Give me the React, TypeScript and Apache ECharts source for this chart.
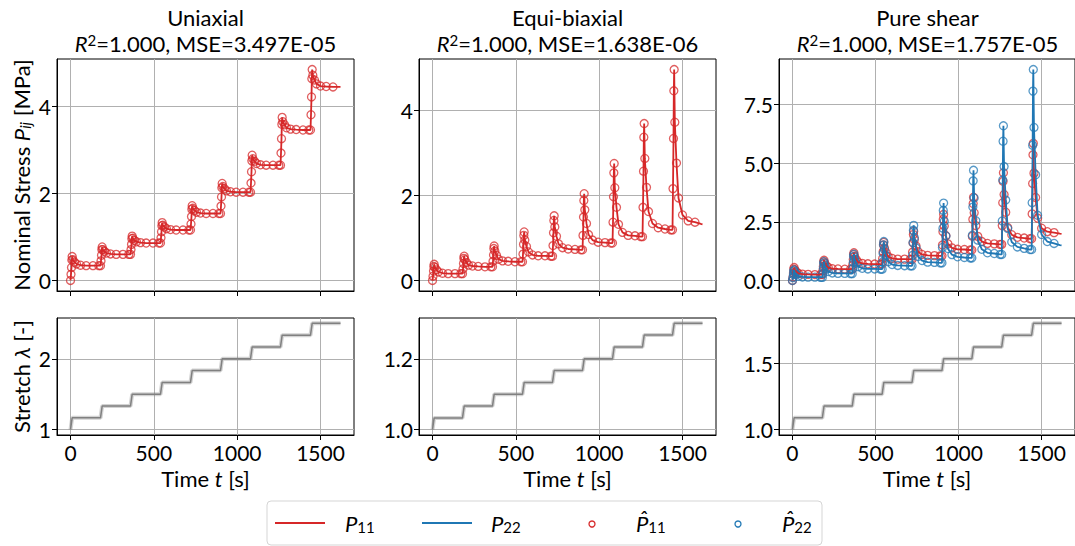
import React, { useEffect, useRef } from "react";
import * as echarts from "echarts";

// ---------- data ----------
const STEP_STARTS = [0, 180, 360, 540, 720, 900, 1080, 1260, 1440];
const STEP_OFFSETS = [0, 3, 6, 8, 10, 14, 24, 36, 60, 94, 135, 170];
const END_TIME = 1620;
const RAMP_TIME = 10;
const MARKER_END = 1600;

const UNI_P11 = [
  0, 0.14, 0.3, 0.47, 0.55, 0.48, 0.42, 0.38, 0.35, 0.34, 0.34, 0.34,
  0.34, 0.45, 0.58, 0.71, 0.77, 0.71, 0.67, 0.63, 0.61, 0.6, 0.6, 0.6,
  0.6, 0.71, 0.83, 0.96, 1.02, 0.97, 0.92, 0.89, 0.87, 0.86, 0.86, 0.86,
  0.86, 0.98, 1.12, 1.26, 1.33, 1.27, 1.23, 1.19, 1.17, 1.16, 1.16, 1.16,
  1.16, 1.3, 1.47, 1.64, 1.72, 1.66, 1.61, 1.57, 1.55, 1.54, 1.54, 1.54,
  1.54, 1.71, 1.92, 2.13, 2.23, 2.16, 2.11, 2.06, 2.04, 2.03, 2.03, 2.03,
  2.03, 2.24, 2.5, 2.75, 2.88, 2.8, 2.74, 2.69, 2.66, 2.65, 2.65, 2.65,
  2.65, 2.93, 3.26, 3.59, 3.75, 3.65, 3.58, 3.51, 3.48, 3.47, 3.46, 3.46,
  3.46, 3.81, 4.22, 4.64, 4.85, 4.72, 4.61, 4.52, 4.47, 4.46, 4.45, 4.45,
  4.45,
];

const EQUI_P11 = [
  0, 0.1, 0.22, 0.33, 0.38, 0.31, 0.25, 0.2, 0.17, 0.16, 0.16, 0.16,
  0.16, 0.27, 0.4, 0.52, 0.57, 0.49, 0.42, 0.36, 0.34, 0.33, 0.32, 0.32,
  0.32, 0.45, 0.6, 0.75, 0.81, 0.69, 0.59, 0.5, 0.46, 0.45, 0.44, 0.44,
  0.44, 0.62, 0.85, 1.06, 1.14, 0.95, 0.8, 0.67, 0.6, 0.58, 0.58, 0.57,
  0.57, 0.82, 1.12, 1.41, 1.52, 1.26, 1.04, 0.86, 0.77, 0.74, 0.73, 0.72,
  0.72, 1.06, 1.49, 1.88, 2.04, 1.66, 1.34, 1.08, 0.95, 0.9, 0.89, 0.88,
  0.88, 1.37, 1.97, 2.53, 2.75, 2.18, 1.72, 1.32, 1.13, 1.06, 1.05, 1.03,
  1.03, 1.72, 2.57, 3.37, 3.69, 2.87, 2.19, 1.62, 1.34, 1.24, 1.21, 1.19,
  1.19, 2.16, 3.34, 4.46, 4.96, 3.72, 2.76, 1.94, 1.54, 1.4, 1.37, 1.33,
  1.32,
];

const PS_P11 = [
  0, 0.14, 0.32, 0.48, 0.55, 0.45, 0.37, 0.3, 0.27, 0.26, 0.25, 0.25,
  0.25, 0.41, 0.6, 0.79, 0.86, 0.74, 0.63, 0.55, 0.5, 0.49, 0.48, 0.48,
  0.48, 0.66, 0.89, 1.1, 1.18, 1.02, 0.89, 0.78, 0.73, 0.71, 0.7, 0.7,
  0.7, 0.94, 1.23, 1.51, 1.62, 1.38, 1.19, 1.02, 0.94, 0.91, 0.91, 0.9,
  0.9, 1.21, 1.6, 1.96, 2.1, 1.75, 1.47, 1.23, 1.11, 1.07, 1.06, 1.05,
  1.05, 1.51, 2.08, 2.61, 2.82, 2.32, 1.91, 1.56, 1.39, 1.33, 1.32, 1.3,
  1.3, 1.89, 2.61, 3.28, 3.55, 2.89, 2.34, 1.88, 1.66, 1.58, 1.56, 1.54,
  1.54, 2.34, 3.32, 4.23, 4.6, 3.67, 2.91, 2.26, 1.95, 1.84, 1.81, 1.78,
  1.78, 2.84, 4.14, 5.36, 5.85, 4.58, 3.54, 2.66, 2.23, 2.08, 2.04, 2.0,
  1.99,
];

const PS_P22 = [
  0, 0.12, 0.26, 0.4, 0.45, 0.34, 0.26, 0.18, 0.15, 0.14, 0.14, 0.13,
  0.13, 0.3, 0.52, 0.72, 0.8, 0.63, 0.49, 0.38, 0.32, 0.3, 0.3, 0.29,
  0.29, 0.51, 0.77, 1.02, 1.12, 0.91, 0.74, 0.59, 0.52, 0.49, 0.49, 0.48,
  0.48, 0.79, 1.16, 1.52, 1.66, 1.32, 1.04, 0.8, 0.68, 0.64, 0.63, 0.62,
  0.62, 1.07, 1.62, 2.14, 2.35, 1.82, 1.39, 1.02, 0.85, 0.78, 0.77, 0.75,
  0.75, 1.41, 2.23, 2.99, 3.3, 2.53, 1.9, 1.36, 1.1, 1.01, 0.98, 0.96,
  0.96, 1.93, 3.13, 4.25, 4.7, 3.52, 2.55, 1.72, 1.33, 1.18, 1.15, 1.11,
  1.11, 2.54, 4.29, 5.94, 6.6, 4.86, 3.43, 2.22, 1.64, 1.43, 1.37, 1.32,
  1.32, 3.32, 5.77, 8.08, 9.0, 6.53, 4.51, 2.78, 1.96, 1.66, 1.58, 1.51,
  1.5,
];

const STRETCH_UNI = [1, 1.1667, 1.3333, 1.5, 1.6667, 1.8333, 2.0, 2.1667, 2.3333, 2.5];
const STRETCH_EQUI = [1, 1.0333, 1.0667, 1.1, 1.1333, 1.1667, 1.2, 1.2333, 1.2667, 1.3];
const STRETCH_PS = [1, 1.0889, 1.1778, 1.2667, 1.3556, 1.4444, 1.5333, 1.6222, 1.7111, 1.8];

const TITLES = ["Uniaxial", "Equi-biaxial", "Pure shear"];
const R2_TEXT = ["1.000", "1.000", "1.000"];
const MSE_TEXT = ["3.497E-05", "1.638E-06", "1.757E-05"];

const X_TICKS = [0, 500, 1000, 1500];
const STRESS_TICKS = [
  [0, 2, 4],
  [0, 2, 4],
  [0, 2.5, 5, 7.5],
];
const STRETCH_TICKS = [
  [1, 2],
  [1.0, 1.2],
  [1.0, 1.5],
];

// ---------- style / layout ----------
const FONT = 'Lato, "DejaVu Sans", sans-serif';
const RED = "#d62728";
const BLUE = "#1f77b4";
const GRAY = "#808080";
const GRID_COLOR = "#b0b0b0";
const FS = 22;
const FS_TICK = 21;

const COL_LEFT = [57, 419, 779];
const COL_W = 297;
const TOP_Y = 59;
const TOP_H = 232;
const BOT_Y = 318;
const BOT_H = 117;

const X_RANGE = [-81, 1701];
const STRESS_RANGE = [
  [-0.2425, 5.0925],
  [-0.248, 5.208],
  [-0.45, 9.45],
];
const STRETCH_RANGE = [
  [0.925, 2.575],
  [0.985, 1.315],
  [0.96, 1.84],
];
const STRESS_FMT = [(v: number) => String(v), (v: number) => String(v), (v: number) => v.toFixed(1)];
const STRETCH_FMT = [(v: number) => String(v), (v: number) => v.toFixed(1), (v: number) => v.toFixed(1)];

const TIMES: number[] = STEP_STARTS.flatMap((s) => STEP_OFFSETS.map((o) => s + o)).concat([END_TIME]);
const toPairs = (ys: number[]) => TIMES.map((t, i) => [t, ys[i]]);
const toMarkers = (ys: number[]) => toPairs(ys).filter((p) => p[0] < MARKER_END);
const stretchPts = (levels: number[]) => {
  const pts: number[][] = [];
  STEP_STARTS.forEach((s, k) => {
    pts.push([s, levels[k]]);
    pts.push([s + RAMP_TIME, levels[k + 1]]);
  });
  pts.push([END_TIME, levels[levels.length - 1]]);
  return pts;
};

const richBase = {
  n: { fontSize: FS, fontFamily: FONT, lineHeight: 22, fill: "#000", color: "#000" },
  i: { fontStyle: "italic", fontSize: FS, fontFamily: FONT, lineHeight: 22, fill: "#000", color: "#000" },
  sub: { fontStyle: "normal", fontSize: 15, fontFamily: FONT, verticalAlign: "bottom", lineHeight: 20, color: "#000", fill: "#000" },
  isub: { fontStyle: "italic", fontSize: 15, fontFamily: FONT, verticalAlign: "bottom", lineHeight: 20, color: "#000", fill: "#000" },
  sup: { fontSize: 15, fontFamily: FONT, verticalAlign: "top", lineHeight: 22, color: "#000", fill: "#000" },
};

function buildOption() {
  const grids: any[] = [];
  const xAxes: any[] = [];
  const yAxes: any[] = [];
  const series: any[] = [];
  const graphics: any[] = [];

  for (let r = 0; r < 2; r++) {
    for (let c = 0; c < 3; c++) {
      const idx = r * 3 + c;
      grids.push({
        left: COL_LEFT[c],
        top: r === 0 ? TOP_Y : BOT_Y,
        width: COL_W,
        height: r === 0 ? TOP_H : BOT_H,
        show: true,
        borderColor: "#000",
        borderWidth: 1,
        backgroundColor: "rgba(0,0,0,0)",
        containLabel: false,
      });
      xAxes.push({
        type: "value",
        gridIndex: idx,
        min: X_RANGE[0],
        max: X_RANGE[1],
        axisLine: { show: true, onZero: false, lineStyle: { color: "#000", width: 1 } },
        axisTick: { show: true, length: 5, customValues: X_TICKS, lineStyle: { color: "#000", width: 1 } },
        axisLabel: {
          show: r === 1,
          customValues: X_TICKS,
          formatter: (v: number) => String(v),
          fontSize: FS_TICK,
          fontFamily: FONT,
          color: "#000",
          margin: 7,
        },
        splitLine: { show: true, lineStyle: { color: GRID_COLOR, width: 1 } },
        name: r === 1 ? "Time {i|t} [s]" : "",
        nameLocation: "middle",
        nameGap: 32,
        nameTextStyle: {
          fontSize: FS,
          fontFamily: FONT,
          color: "#000",
          rich: { i: { fontStyle: "italic", fontSize: FS, fontFamily: FONT, color: "#000" } },
        },
      });
      const ticks = r === 0 ? STRESS_TICKS[c] : STRETCH_TICKS[c];
      const rng = r === 0 ? STRESS_RANGE[c] : STRETCH_RANGE[c];
      const fmt = r === 0 ? STRESS_FMT[c] : STRETCH_FMT[c];
      yAxes.push({
        type: "value",
        gridIndex: idx,
        min: rng[0],
        max: rng[1],
        axisLine: { show: true, onZero: false, lineStyle: { color: "#000", width: 1 } },
        axisTick: { show: true, length: 5, customValues: ticks, lineStyle: { color: "#000", width: 1 } },
        axisLabel: {
          show: true,
          customValues: ticks,
          formatter: (v: number) => fmt(v),
          fontSize: FS_TICK,
          fontFamily: FONT,
          color: "#000",
          margin: 6,
        },
        splitLine: { show: true, lineStyle: { color: GRID_COLOR, width: 1 } },
      });
    }
  }

  const markerSeries = (ys: number[], color: string, g: number) => ({
    type: "scatter",
    xAxisIndex: g,
    yAxisIndex: g,
    data: toMarkers(ys),
    symbol: "circle",
    symbolSize: 8,
    itemStyle: { color: "rgba(0,0,0,0)", borderColor: color, borderWidth: 1.3, opacity: 0.75 },
    z: 2,
  });
  const lineSeries = (ys: number[], color: string, g: number) => ({
    type: "line",
    xAxisIndex: g,
    yAxisIndex: g,
    data: toPairs(ys),
    showSymbol: false,
    symbol: "none",
    lineStyle: { color, width: 1.8 },
    z: 3,
  });

  series.push(markerSeries(UNI_P11, RED, 0), lineSeries(UNI_P11, RED, 0));
  series.push(markerSeries(EQUI_P11, RED, 1), lineSeries(EQUI_P11, RED, 1));
  series.push(markerSeries(PS_P11, RED, 2), lineSeries(PS_P11, RED, 2));
  series.push(markerSeries(PS_P22, BLUE, 2), lineSeries(PS_P22, BLUE, 2));

  [STRETCH_UNI, STRETCH_EQUI, STRETCH_PS].forEach((lv, c) => {
    const g = 3 + c;
    series.push({
      type: "line",
      xAxisIndex: g,
      yAxisIndex: g,
      data: stretchPts(lv),
      showSymbol: false,
      symbol: "none",
      lineStyle: { color: "rgba(128,128,128,0.35)", width: 4 },
      z: 2,
    });
    series.push({
      type: "line",
      xAxisIndex: g,
      yAxisIndex: g,
      data: stretchPts(lv),
      showSymbol: false,
      symbol: "none",
      lineStyle: { color: GRAY, width: 1.5 },
      z: 3,
    });
  });

  // titles
  TITLES.forEach((t, c) => {
    const cx = COL_LEFT[c] + COL_W / 2;
    graphics.push({
      type: "text",
      x: cx,
      y: 17,
      style: {
        text: `{n|${t}}`,
        fontSize: FS,
        fontFamily: FONT,
        fill: "#000",
        align: "center",
        verticalAlign: "middle",
        rich: richBase,
      },
    });
    graphics.push({
      type: "text",
      x: cx,
      y: 43,
      style: {
        text: `{i|R}{sup|2}{n|=${R2_TEXT[c]}, MSE=${MSE_TEXT[c]}}`,
        fontSize: FS,
        fontFamily: FONT,
        fill: "#000",
        align: "center",
        verticalAlign: "middle",
        rich: richBase,
      },
    });
  });

  // y labels
  graphics.push({
    type: "text",
    x: 21,
    y: TOP_Y + TOP_H / 2,
    rotation: Math.PI / 2,
    style: {
      text: "Nominal Stress {i|P}{isub|ij} [MPa]",
      fontSize: FS,
      fontFamily: FONT,
      fill: "#000",
      align: "center",
      verticalAlign: "middle",
      rich: richBase,
    },
  });
  graphics.push({
    type: "text",
    x: 21,
    y: BOT_Y + BOT_H / 2,
    rotation: Math.PI / 2,
    style: {
      text: "Stretch {i|λ} [-]",
      fontSize: FS,
      fontFamily: FONT,
      fill: "#000",
      align: "center",
      verticalAlign: "middle",
      rich: richBase,
    },
  });

  // legend
  const LY = 523;
  graphics.push({
    type: "rect",
    shape: { x: 267, y: 501, width: 555, height: 44, r: 4 },
    style: { fill: "#fff", stroke: "#d5d5d5", lineWidth: 1 },
  });
  graphics.push({ type: "line", shape: { x1: 275, y1: LY, x2: 325, y2: LY }, style: { stroke: RED, lineWidth: 1.8 } });
  graphics.push({ type: "line", shape: { x1: 422, y1: LY, x2: 472, y2: LY }, style: { stroke: BLUE, lineWidth: 1.8 } });
  graphics.push({ type: "circle", shape: { cx: 592, cy: LY + 1, r: 3 }, style: { fill: "none", stroke: RED, lineWidth: 1.3 } });
  graphics.push({ type: "circle", shape: { cx: 738, cy: LY + 1, r: 3 }, style: { fill: "none", stroke: BLUE, lineWidth: 1.3 } });
  const legTexts = [
    { x: 345, t: "{i|P}{sub|11}" },
    { x: 491, t: "{i|P}{sub|22}" },
    { x: 636, t: "{i|P\u0302}{sub|11}" },
    { x: 782, t: "{i|P\u0302}{sub|22}" },
  ];
  legTexts.forEach((l) =>
    graphics.push({
      type: "text",
      x: l.x,
      y: LY,
      style: { text: l.t, fontSize: FS, fontFamily: FONT, fill: "#000", align: "left", verticalAlign: "middle", rich: richBase },
    })
  );

  return {
    animation: false,
    backgroundColor: "#fff",
    grid: grids,
    xAxis: xAxes,
    yAxis: yAxes,
    series,
    graphic: graphics,
  };
}

export default function App() {
  const ref = useRef<HTMLDivElement>(null);
  useEffect(() => {
    document.body.style.margin = "0";
    const chart = echarts.init(ref.current!, null, { renderer: "svg" });
    chart.setOption(buildOption() as any);
    return () => chart.dispose();
  }, []);
  return <div ref={ref} style={{ width: 1075, height: 546 }} />;
}
